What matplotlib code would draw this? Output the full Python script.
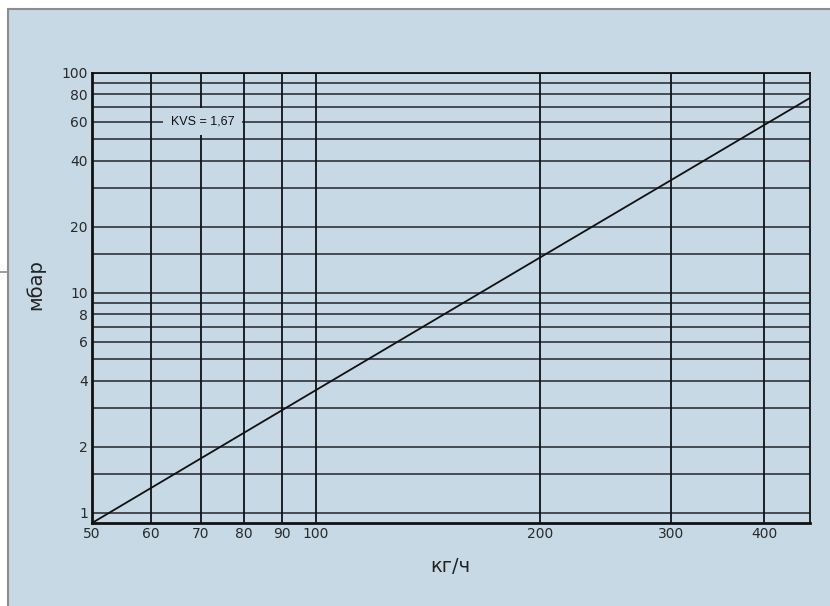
import matplotlib
matplotlib.use("Agg")
import matplotlib.pyplot as plt
from matplotlib.patches import Rectangle
from matplotlib.lines import Line2D
from matplotlib.ticker import FixedLocator, NullLocator, FixedFormatter

# data (flow kg/h vs pressure drop mbar)
flow = [50, 100, 200, 300, 400, 461]
dp = [0.9, 3.62, 14.5, 32.6, 58, 77]

x_ticks = [50, 60, 70, 80, 90, 100, 200, 300, 400]
x_labels = ["50", "60", "70", "80", "90", "100", "200", "300", "400"]
y_ticks = [1, 2, 4, 6, 8, 10, 20, 40, 60, 80, 100]
y_labels = ["1", "2", "4", "6", "8", "10", "20", "40", "60", "80", "100"]
y_grid = [1, 1.5, 2, 3, 4, 5, 6, 7, 8, 9, 10, 15, 20, 30, 40, 50, 60, 70, 80, 90, 100]
x_grid = [60, 70, 80, 90, 100, 200, 300, 400]

W, H = 830, 606
bg = "#c7d9e4"
fig = plt.figure(figsize=(W / 100, H / 100), dpi=100, facecolor="white")

# panel background with gray border
fig.patches.append(Rectangle((8 / W, 0), 1 - 8 / W, 1 - 9 / H, transform=fig.transFigure,
                             facecolor=bg, edgecolor="none", zorder=-10))
fig.lines.append(Line2D([8 / W, 8 / W], [0, 1 - 9 / H], transform=fig.transFigure, color="#8c8c8c", lw=1.5, zorder=-5))
fig.lines.append(Line2D([8 / W, 1], [1 - 9 / H, 1 - 9 / H], transform=fig.transFigure, color="#8c8c8c", lw=1.5, zorder=-5))
fig.lines.append(Line2D([0, 8 / W], [1 - 272 / H, 1 - 272 / H], transform=fig.transFigure, color="#8c8c8c", lw=1.2, zorder=-5))

ax = fig.add_axes([92 / W, 1 - 523 / H, (810 - 92) / W, (523 - 73) / H])
ax.set_zorder(1)
ax.set_facecolor(bg)
ax.set_xscale("log")
ax.set_yscale("log")
ax.set_xlim(50, 461)
ax.set_ylim(0.9, 100)

for yv in y_grid:
    ax.axhline(yv, color="#22232b", lw=1.1, zorder=1)
for xv in x_grid:
    ax.axvline(xv, color="#111118", lw=1.3, zorder=1)

ax.plot(flow, dp, color="#111111", lw=1.3, zorder=3)

ax.xaxis.set_major_locator(FixedLocator(x_ticks))
ax.xaxis.set_major_formatter(FixedFormatter(x_labels))
ax.xaxis.set_minor_locator(NullLocator())
ax.yaxis.set_major_locator(FixedLocator(y_ticks))
ax.yaxis.set_major_formatter(FixedFormatter(y_labels))
ax.yaxis.set_minor_locator(NullLocator())
ax.tick_params(axis="both", length=0, labelsize=10, colors="#2a2a2a", pad=3)

for side in ["left", "bottom"]:
    ax.spines[side].set_linewidth(2.0)
    ax.spines[side].set_color("#111111")
for side in ["top", "right"]:
    ax.spines[side].set_linewidth(1.3)
    ax.spines[side].set_color("#111111")

ax.text(70.4, 60, "KVS = 1,67", ha="center", va="center", fontsize=9,
        family=["Liberation Sans Narrow", "Liberation Sans", "DejaVu Sans"], color="#111111", zorder=5,
        bbox=dict(boxstyle="square,pad=0.6", facecolor=bg, edgecolor="none"))

fig.text(35 / W, 1 - 285 / H, "мбар", rotation=90, ha="center", va="center", fontsize=14, color="#222222")
fig.text(450 / W, 1 - 566 / H, "кг/ч", ha="center", va="center", fontsize=14, color="#222222")

fig.savefig("out.png", dpi=100, facecolor="white")
